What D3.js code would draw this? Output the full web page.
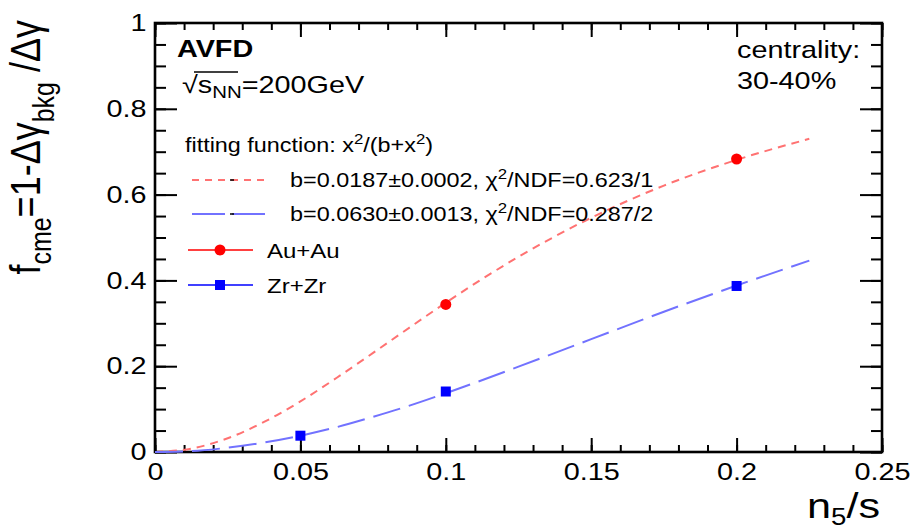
<!DOCTYPE html>
<html>
<head>
<meta charset="utf-8">
<script src="https://cdn.jsdelivr.net/npm/d3@7"></script>
<style>
  body { margin: 0; background: #fff; }
  svg { font-family: "Liberation Sans", Arial, Helvetica, sans-serif; }
</style>
</head>
<body>
<svg id="chart"></svg>
<script>
// data points
const auX = [0.1, 0.2];
const auY = [0.344, 0.683];
const zrX = [0.05, 0.1, 0.2];
const zrY = [0.038, 0.141, 0.387];

// fit curves
const fitX  = [0, 0.0125, 0.025, 0.0375, 0.05, 0.0625, 0.075, 0.0875, 0.1, 0.125, 0.15, 0.175, 0.2, 0.225];
const fitAu = [0, 0.008, 0.032, 0.070, 0.118, 0.173, 0.231, 0.290, 0.348, 0.455, 0.546, 0.621, 0.681, 0.730];
const fitZr = [0, 0.002, 0.010, 0.022, 0.038, 0.058, 0.082, 0.108, 0.137, 0.199, 0.263, 0.327, 0.388, 0.446];

const xMajor = [0, 0.05, 0.1, 0.15, 0.2, 0.25];
const yMajor = [0, 0.2, 0.4, 0.6, 0.8, 1];
const xMinor = d3.range(0, 26).map(i => i / 100);
const yMinor = d3.range(0, 21).map(i => i / 20);

const legendFits = ["b=0.0187\u00b10.0002, ", "b=0.0630\u00b10.0013, "];
const legendChi = ["/NDF=0.623/1", "/NDF=0.287/2"];
const legendData = ["Au+Au", "Zr+Zr"];

const W = 919, H = 531;
const margin = {left: 155, top: 23, right: 37, bottom: 79};
const width = W - margin.left - margin.right;
const height = H - margin.top - margin.bottom;
const sx = 1.2; // the original is stretched sideways

const red = "#ff0000", blue = "#0000ff";
const redFit = "#ff7272", blueFit = "#7272ff";

const svg = d3.select("#chart").attr("width", W).attr("height", H);
const chart = svg.append("g").attr("transform", `translate(${margin.left},${margin.top})`);

const x = d3.scaleLinear().domain([0, 0.25]).range([0, width]);
const y = d3.scaleLinear().domain([0, 1]).range([height, 0]);

// ticks, all pointing inward
const axisStyle = g => {
    g.select(".domain").remove();
    g.selectAll("line").attr("stroke", "#000").attr("stroke-width", 2);
};
chart.append("g").attr("transform", `translate(0,${height})`)
    .call(d3.axisBottom(x).tickValues(xMinor).tickSize(-7).tickFormat("")).call(axisStyle);
chart.append("g").attr("transform", `translate(0,${height})`)
    .call(d3.axisBottom(x).tickValues(xMajor).tickSize(-14).tickPadding(11).tickFormat(d3.format("")))
    .call(axisStyle)
    .call(g => g.selectAll("text").attr("dy", "0.71em")
        .attr("transform", `scale(${sx},1)`).style("font-size", "24px").attr("fill", "#000"));
chart.append("g")
    .call(d3.axisTop(x).tickValues(xMinor).tickSize(-7).tickFormat("")).call(axisStyle);
chart.append("g")
    .call(d3.axisTop(x).tickValues(xMajor).tickSize(-14).tickFormat("")).call(axisStyle);

chart.append("g")
    .call(d3.axisLeft(y).tickValues(yMinor).tickSize(-11).tickFormat("")).call(axisStyle);
chart.append("g")
    .call(d3.axisLeft(y).tickValues(yMajor).tickSize(-22).tickPadding(7).tickFormat(d3.format("")))
    .call(axisStyle)
    .call(g => g.selectAll("text").attr("transform", `scale(${sx},1)`)
        .style("font-size", "24px").attr("fill", "#000"));
chart.append("g").attr("transform", `translate(${width},0)`)
    .call(d3.axisRight(y).tickValues(yMinor).tickSize(-11).tickFormat("")).call(axisStyle);
chart.append("g").attr("transform", `translate(${width},0)`)
    .call(d3.axisRight(y).tickValues(yMajor).tickSize(-22).tickFormat("")).call(axisStyle);

// frame
chart.append("rect").attr("width", width).attr("height", height)
    .attr("fill", "none").attr("stroke", "#000").attr("stroke-width", 2.6);

// fit curves
const line = d3.line().x(d => x(d[0])).y(d => y(d[1])).curve(d3.curveMonotoneX);
chart.append("path").datum(d3.zip(fitX, fitAu)).attr("d", line)
    .attr("fill", "none").attr("stroke", redFit).attr("stroke-width", 2).attr("stroke-dasharray", "8,6");
chart.append("path").datum(d3.zip(fitX, fitZr)).attr("d", line)
    .attr("fill", "none").attr("stroke", blueFit).attr("stroke-width", 2).attr("stroke-dasharray", "28,9");

// points
chart.selectAll(".au").data(d3.zip(auX, auY)).enter().append("circle")
    .attr("cx", d => x(d[0])).attr("cy", d => y(d[1])).attr("r", 5.5).attr("fill", red);
chart.selectAll(".zr").data(d3.zip(zrX, zrY)).enter().append("rect")
    .attr("x", d => x(d[0]) - 5).attr("y", d => y(d[1]) - 5)
    .attr("width", 10).attr("height", 10).attr("fill", blue);

// text helper: stretched text at (x,y)
const stext = (px, py, size, anchor) => svg.append("text")
    .attr("transform", `translate(${px},${py}) scale(${sx},1)`)
    .attr("text-anchor", anchor || "start")
    .style("font-size", size + "px").attr("fill", "#000");

// axis titles
const yt = svg.append("text")
    .attr("transform", `translate(40,20) scale(${sx},1) rotate(-90)`)
    .attr("text-anchor", "end").style("font-size", "36px");
yt.append("tspan").text("f");
yt.append("tspan").attr("dy", 9).style("font-size", "25px").text("cme");
yt.append("tspan").attr("dy", -9).text("=1-\u0394\u03b3");
yt.append("tspan").attr("dy", 12).style("font-size", "25px").text("bkg");
yt.append("tspan").attr("dy", -12).text(" /\u0394\u03b3");

const xt = stext(880, 518, 36, "end");
xt.append("tspan").text("n");
xt.append("tspan").attr("dy", 7).style("font-size", "23px").text("5");
xt.append("tspan").attr("dy", -7).text("/s");

// labels in the pad
stext(177, 57, 24).style("font-weight", "bold").text("AVFD");
const sq = stext(182, 93, 24);
sq.append("tspan").text("\u221as");
sq.append("tspan").attr("dy", 5).style("font-size", "17px").text("NN");
sq.append("tspan").attr("dy", -5).text("=200GeV");
svg.append("line").attr("x1", 194).attr("x2", 238).attr("y1", 72).attr("y2", 72)
    .attr("stroke", "#000").attr("stroke-width", 1.5);

stext(737, 58, 24).text("centrality:");
stext(737, 89, 24).text("30-40%");

// legend
const ff = stext(185, 152, 19.5);
ff.append("tspan").text("fitting function: x");
ff.append("tspan").attr("dy", -8).style("font-size", "14px").text("2");
ff.append("tspan").attr("dy", 8).text("/(b+x");
ff.append("tspan").attr("dy", -8).style("font-size", "14px").text("2");
ff.append("tspan").attr("dy", 8).text(")");

const fitRows = [180, 214];
const fitColors = [redFit, blueFit];
const fitDash = ["7,6", "33,7"];
fitRows.forEach((ry, i) => {
    svg.append("line").attr("x1", 192).attr("x2", 267).attr("y1", ry).attr("y2", ry)
        .attr("stroke", fitColors[i]).attr("stroke-width", 2).attr("stroke-dasharray", fitDash[i]);
    svg.append("line").attr("x1", 230).attr("x2", 234).attr("y1", ry).attr("y2", ry)
        .attr("stroke", "#000").attr("stroke-width", 1.5);
    const t = stext(290, ry + 7, 19.5);
    t.append("tspan").text(legendFits[i] + "\u03c7");
    t.append("tspan").attr("dy", -8).style("font-size", "14px").text("2");
    t.append("tspan").attr("dy", 8).text(legendChi[i]);
});

const dataRows = [250, 285];
const dataColors = [red, blue];
dataRows.forEach((ry, i) => {
    svg.append("line").attr("x1", 188).attr("x2", 253).attr("y1", ry).attr("y2", ry)
        .attr("stroke", dataColors[i]).attr("stroke-width", 1.5);
    if (i === 0) {
        svg.append("circle").attr("cx", 220).attr("cy", ry).attr("r", 5.5).attr("fill", red);
    } else {
        svg.append("rect").attr("x", 215).attr("y", ry - 5).attr("width", 10).attr("height", 10).attr("fill", blue);
    }
    stext(267, ry + 8, 20).text(legendData[i]);
});
</script>
</body>
</html>
